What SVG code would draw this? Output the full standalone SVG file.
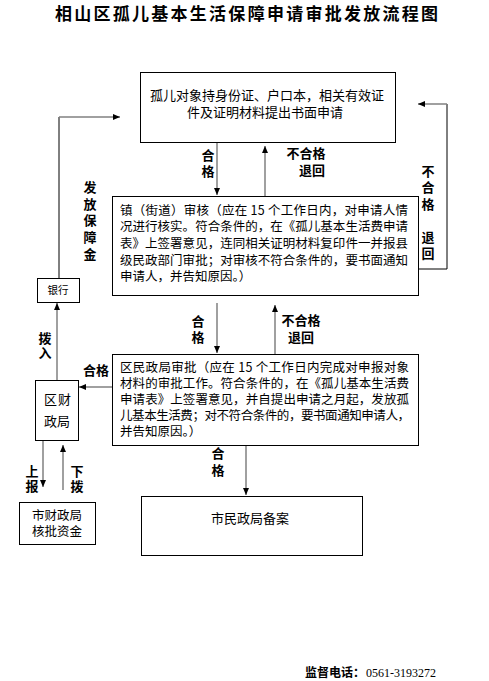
<svg xmlns="http://www.w3.org/2000/svg" width="489" height="681" viewBox="0 0 489 681">
<style>
text{font-family:"Noto Sans CJK SC","Noto Sans",sans-serif;fill:#000}
.t{font-size:13px}
.s{font-size:12.5px}
.b{font-size:13px;font-weight:bold;text-anchor:middle}
.v{font-size:13px;font-weight:bold;writing-mode:vertical-rl;text-orientation:upright}
.c{text-anchor:middle}
.box{fill:#fff;stroke:#000;stroke-width:1}
.ln{fill:none;stroke:#808080;stroke-width:1.5}
.lk{fill:none;stroke:#000;stroke-width:1}
</style>
<defs>
<marker id="ah" markerUnits="userSpaceOnUse" markerWidth="8" markerHeight="8" refX="7" refY="4" orient="auto">
<path d="M0,1 L7,4 L0,7 Z" fill="#000"/>
</marker>
</defs>
<text x="55" y="20" font-size="17" font-weight="bold" textLength="383" lengthAdjust="spacing">相山区孤儿基本生活保障申请审批发放流程图</text>

<g id="connectors">
<line class="ln" x1="217" y1="142" x2="217" y2="195" marker-end="url(#ah)"/>
<line class="ln" x1="265" y1="196" x2="265" y2="146" marker-end="url(#ah)"/>
<line class="ln" x1="217" y1="303" x2="217" y2="353" marker-end="url(#ah)"/>
<line class="ln" x1="275" y1="354" x2="275" y2="305" marker-end="url(#ah)"/>
<line class="ln" x1="112" y1="387" x2="79" y2="387" marker-end="url(#ah)"/>
<line class="ln" x1="57" y1="380" x2="57" y2="303" marker-end="url(#ah)"/>
<line class="ln" x1="43" y1="440" x2="43" y2="487" marker-end="url(#ah)"/>
<line class="ln" x1="63" y1="490" x2="63" y2="445" marker-end="url(#ah)"/>
<line class="ln" x1="246" y1="445" x2="246" y2="495" marker-end="url(#ah)"/>
<polyline class="lk" points="418,269 447,269 447,104"/>
<line class="ln" x1="447" y1="104" x2="418" y2="104" marker-end="url(#ah)"/>
<polyline class="lk" points="59,278 59,117"/>
<line class="ln" x1="59" y1="117" x2="120" y2="117" marker-end="url(#ah)"/>
<text class="v" x="208" y="148.5" letter-spacing="3">合格</text>
<text class="b"><tspan x="306" y="158">不合格</tspan><tspan x="312" y="175">退回</tspan></text>
<text class="v" x="198" y="314.5" letter-spacing="3">合格</text>
<text class="b"><tspan x="301" y="325">不合格</tspan><tspan x="301" y="342">退回</tspan></text>
<text class="b" x="96" y="375">合格</text>
<text class="v" x="45" y="331.5" letter-spacing="2">拨入</text>
<text class="v" x="32" y="464.5" letter-spacing="2">上报</text>
<text class="v" x="77" y="464.5" letter-spacing="2">下拨</text>
<text class="v" x="218" y="446.5" letter-spacing="4">合格</text>
<text class="v" x="90" y="180.5" letter-spacing="3.75">发放保障金</text>
<text class="v" x="428" y="164.5" letter-spacing="3.5">不合格</text>
<text class="v" x="428" y="230.5" letter-spacing="3">退回</text>
</g>

<g id="apply">
<rect class="box" x="140.5" y="72.5" width="255" height="70"/>
<text class="t c" x="267" y="100">孤儿对象持身份证、户口本，相关有效证</text>
<text class="t c" x="265" y="117">件及证明材料提出书面申请</text>
</g>

<g id="town">
<rect class="box" x="112.5" y="196.5" width="306" height="99"/>
<text class="s" x="120" y="215" textLength="288" lengthAdjust="spacing">镇（街道）审核（应在 15 个工作日内，对申请人情</text>
<text class="s" x="120" y="231" textLength="288" lengthAdjust="spacing">况进行核实。符合条件的，在《孤儿基本生活费申请</text>
<text class="s" x="120" y="248" textLength="288" lengthAdjust="spacing">表》上签署意见，连同相关证明材料复印件一并报县</text>
<text class="s" x="120" y="265" textLength="288" lengthAdjust="spacing">级民政部门审批；对审核不符合条件的，要书面通知</text>
<text class="s" x="120" y="281">申请人，并告知原因。）</text>
</g>

<g id="district">
<rect class="box" x="112.5" y="354.5" width="306" height="91"/>
<text class="s" x="120" y="372" textLength="289" lengthAdjust="spacing">区民政局审批（应在 15 个工作日内完成对申报对象</text>
<text class="s" x="120" y="388" textLength="289" lengthAdjust="spacing">材料的审批工作。符合条件的，在《孤儿基本生活费</text>
<text class="s" x="120" y="404" textLength="289" lengthAdjust="spacing">申请表》上签署意见，并自提出申请之月起，发放孤</text>
<text class="s" x="120" y="420" textLength="290" lengthAdjust="spacing">儿基本生活费；对不符合条件的，要书面通知申请人，</text>
<text class="s" x="120" y="436">并告知原因。）</text>
</g>

<g id="bank">
<rect class="box" x="37.5" y="278.5" width="42" height="24"/>
<text class="c" x="58" y="294" font-size="10.5">银行</text>
</g>

<g id="finance">
<rect class="box" x="35.5" y="380.5" width="43" height="60"/>
<text class="t c" x="58" y="404" letter-spacing="1">区财</text>
<text class="t c" x="57" y="426">政局</text>
</g>

<g id="cityfinance">
<rect class="box" x="19.5" y="502.5" width="76" height="42"/>
<text class="s c" x="57" y="520">市财政局</text>
<text class="s c" x="57" y="536">核批资金</text>
</g>

<g id="record">
<rect class="box" x="141.5" y="496.5" width="221" height="59"/>
<text class="t c" x="250" y="523">市民政局备案</text>
</g>

<g id="footer">
<text x="305" y="677" font-size="12" font-weight="bold">监督电话：</text>
<text x="366" y="677" font-size="12" style="font-family:'Liberation Serif',serif">0561-3193272</text>
</g>
</svg>
